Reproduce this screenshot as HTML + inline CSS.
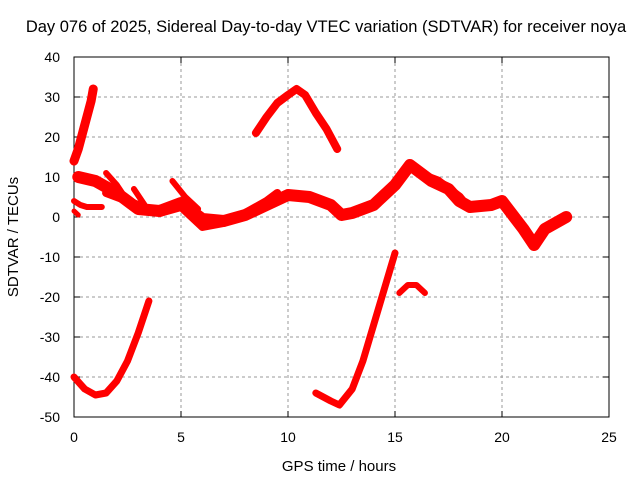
<!DOCTYPE html>
<html><head><meta charset="utf-8"><style>
body{margin:0;background:#fff}
svg text{font-family:"Liberation Sans",sans-serif;font-size:14px;fill:#000}
</style></head><body>
<svg id="chart" width="640" height="480">
<text x="326" y="32" text-anchor="middle" style="font-size:16.5px">Day 076 of 2025, Sidereal Day-to-day VTEC variation (SDTVAR) for receiver noya</text>
<g id="grid"></g><g id="axes"></g><g id="marks"></g>
<text x="339" y="471" text-anchor="middle" style="font-size:15px">GPS time / hours</text>
<text transform="translate(18,237) rotate(-90)" text-anchor="middle" style="font-size:15px">SDTVAR / TECUs</text>
</svg>
<script>
const xTicks=[0,5,10,15,20,25];
const yTicks=[40,30,20,10,0,-10,-20,-30,-40,-50];
const t1=[0,0.2,0.4,0.6,0.8,0.9], v1=[14,17,21,25,29,32];
const t2=[8.5,9,9.5,10,10.4,10.8,11.3,11.8,12.3], v2=[21,25,28.5,30.5,32,30.5,26,22,17];
const t3=[0.2,1,2,3,4,5,6,7,8,9,10,11,12,12.5,13,14,15,15.7,16.2,16.7,17.5,18,18.5,19.5,20,21,21.5,22,23], v3=[10,9,6,2,1.5,3.5,-0.5,-1,0.5,3,5.5,5,3,0.5,1,3,8,13,11,9,7,4,2.5,3,4,-3,-7,-3,0];
const t4=[1.5,3,4,5,6,7,8,9,9.5], v4=[6,3,1,2.5,-2.5,-1.5,1,4,6];
const t5=[1.5,2,2.5], v5=[11,8,4];
const t6=[2.8,3.3], v6=[7,3];
const t7=[4.6,5.2,5.8], v7=[9,5,2];
const t8=[16.5,17,17.5,18,18.3], v8=[10,9,7,5,3];
const t9=[0,0.3,0.6,1.3], v9=[4,3,2.5,2.5];
const t10=[0,0.2], v10=[1.5,0.5];
const t11=[0,0.5,1,1.5,2,2.5,3,3.5], v11=[-40,-43,-44.5,-44,-41,-36,-29,-21];
const t12=[11.3,12,12.4,13,13.5,14,14.5,15], v12=[-44,-46,-47,-43,-36,-27,-18,-9];
const t13=[15.2,15.6,16,16.4], v13=[-19,-17,-17,-19];
const series=[[t1,v1,9],[t2,v2,8],[t3,v3,12],[t4,v4,8],[t5,v5,6],[t6,v6,6],[t7,v7,6],[t8,v8,9],[t9,v9,6],[t10,v10,5],[t11,v11,7],[t12,v12,7],[t13,v13,6]];
const X0=74,X1=609,Y0=417,Y1=57;
const sx=v=>X0+(v-0)/25*(X1-X0);
const sy=v=>Y0-(v+50)/90*(Y0-Y1);
const NS="http://www.w3.org/2000/svg";
function mk(tag,a,p){const e=document.createElementNS(NS,tag);for(const k in a)e.setAttribute(k,a[k]);p.appendChild(e);return e;}
const grid=document.getElementById('grid'),axes=document.getElementById('axes'),marks=document.getElementById('marks');
xTicks.forEach(t=>{const x=sx(t);
 if(t>0&&t<25){const l=mk('line',{x1:x,x2:x,y1:Y1,y2:Y0,stroke:'#999','stroke-dasharray':'3,3'},grid);}
 mk('line',{x1:x,x2:x,y1:Y0,y2:Y0-6,stroke:'#000'},axes);mk('line',{x1:x,x2:x,y1:Y1,y2:Y1+6,stroke:'#000'},axes);
 const tx=mk('text',{x:x,y:442,'text-anchor':'middle'},axes);tx.textContent=t;
 
 });
yTicks.forEach(t=>{const y=sy(t);
 if(t>-50&&t<40){const l=mk('line',{x1:X0,x2:X1,y1:y,y2:y,stroke:'#999','stroke-dasharray':'3,3'},grid);}
 mk('line',{x1:X0,x2:X0+6,y1:y,y2:y,stroke:'#000'},axes);mk('line',{x1:X1,x2:X1-6,y1:y,y2:y,stroke:'#000'},axes);
 const tx=mk('text',{x:60,y:y+5,'text-anchor':'end'},axes);tx.textContent=t;
 
 });
const fr=mk('rect',{x:X0,y:Y1,width:X1-X0,height:Y0-Y1,fill:'none',stroke:'#000'},axes);


series.forEach(([t,v,w])=>{
 const pts=t.map((tt,i)=>sx(tt)+','+sy(v[i])).join(' ');
 const p=mk('polyline',{points:pts,fill:'none',stroke:'#f00','stroke-width':w,'stroke-linejoin':'round','stroke-linecap':'round'},marks);
 
 });
</script>
</body></html>
